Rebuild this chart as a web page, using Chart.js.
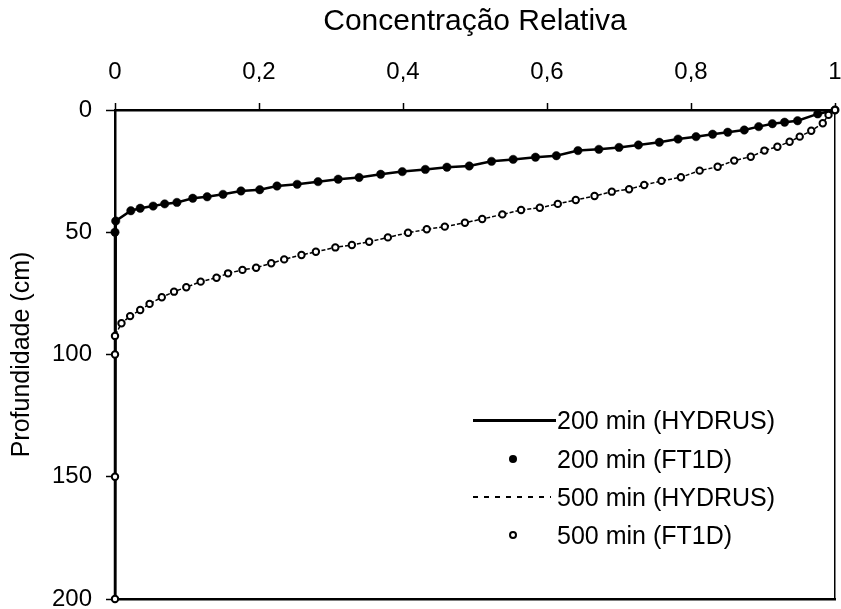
<!DOCTYPE html>
<html>
<head>
<meta charset="utf-8">
<script src="https://cdn.jsdelivr.net/npm/chart.js@4.4.0/dist/chart.umd.min.js"></script>
<style>
html,body{margin:0;padding:0;background:#fff;}
#wrap{position:relative;width:841px;height:609px;overflow:hidden;}
#c{position:absolute;left:0;top:0;}
.row{position:absolute;left:470px;height:30px;width:360px;font-family:"Liberation Sans",Arial,Helvetica,sans-serif;font-size:25px;line-height:30px;color:#000;white-space:nowrap;}
.row .txt{position:absolute;left:87px;top:0;}
.row .mk{position:absolute;}
.mk.solid{left:3px;top:14px;width:83px;height:2.5px;background:#000;}
.mk.dash{left:3px;top:14px;width:78px;height:2px;background:repeating-linear-gradient(to right,#000 0 5px,transparent 5px 11px);}
.mk.dot{left:39px;top:11px;width:8px;height:8px;border-radius:50%;background:#000;}
.mk.ring{left:39px;top:11px;width:4px;height:4px;border-radius:50%;border:2px solid #000;background:#fff;}
</style>
</head>
<body>
<div id="wrap">
  <canvas id="c" width="841" height="609"></canvas>
  <div id="legend"></div>
</div>
<script>
// ---- data ----
const xTickValues = [0, 0.2, 0.4, 0.6, 0.8, 1];
const xTickLabels = ['0', '0,2', '0,4', '0,6', '0,8', '1'];
const yTickValues = [0, 50, 100, 150, 200];
const yTickLabels = ['0', '50', '100', '150', '200'];
const xTitle = 'Concentração Relativa';
const yTitle = 'Profundidade (cm)';
const seriesNames = ['200 min (HYDRUS)', '200 min (FT1D)', '500 min (HYDRUS)', '500 min (FT1D)'];

// 200 min (FT1D): relative concentration and depth (cm)
const conc200 = [1.000, 0.976, 0.948, 0.930, 0.913, 0.894, 0.874, 0.851, 0.830, 0.807, 0.782, 0.756, 0.727, 0.700, 0.672, 0.643,
  0.613, 0.584, 0.553, 0.523, 0.492, 0.461, 0.431, 0.399, 0.369, 0.339, 0.310, 0.282, 0.253, 0.225, 0.201, 0.175,
  0.150, 0.128, 0.108, 0.086, 0.069, 0.053, 0.035, 0.022, 0.001, 0.000];
const depth200 = [0.0, 1.6, 4.4, 5.0, 5.6, 6.8, 8.2, 9.1, 9.9, 10.9, 11.9, 13.2, 14.3, 15.3, 16.1, 16.6,
  18.7, 19.3, 20.2, 21.0, 22.9, 23.4, 24.3, 25.2, 26.3, 27.6, 28.3, 29.3, 30.4, 31.1, 32.6, 33.1,
  34.5, 35.5, 36.1, 37.8, 38.4, 39.3, 40.2, 41.2, 45.4, 50.0];

// 500 min (FT1D)
const conc500 = [1.000, 0.991, 0.983, 0.967, 0.951, 0.937, 0.920, 0.902, 0.883, 0.860, 0.837, 0.812, 0.786, 0.759, 0.735, 0.714,
  0.690, 0.666, 0.640, 0.615, 0.590, 0.564, 0.538, 0.510, 0.486, 0.458, 0.433, 0.407, 0.379, 0.353, 0.329, 0.306,
  0.279, 0.259, 0.235, 0.217, 0.196, 0.177, 0.157, 0.141, 0.119, 0.099, 0.082, 0.065, 0.048, 0.035, 0.021, 0.009,
  0.000, 0.000, 0.000, 0.000];
const depth500 = [0.0, 2.0, 5.4, 8.5, 10.9, 13.0, 15.0, 16.6, 19.1, 20.7, 23.2, 24.8, 27.5, 29.0, 30.7, 32.4,
  33.4, 35.2, 36.8, 38.4, 40.0, 40.9, 42.7, 44.6, 46.1, 47.7, 48.8, 50.2, 52.1, 53.9, 55.2, 56.2,
  58.0, 59.3, 61.1, 62.7, 64.5, 65.4, 66.8, 68.6, 70.2, 72.5, 74.3, 76.6, 79.3, 81.8, 84.3, 87.2,
  92.4, 100, 150, 200];

// HYDRUS curves follow the same profiles down to the bottom of the column
const hydrus200Conc = [...conc200, 0];
const hydrus200Depth = [...depth200, 200];
const hydrus500Conc = conc500;
const hydrus500Depth = depth500;

const pts = (xs, ys) => xs.map((x, i) => ({x: x, y: ys[i]}));
const labelFor = (vals, labels, v) => {
  const k = vals.findIndex(t => Math.abs(t - v) < 1e-6);
  return k >= 0 ? labels[k] : '';
};
const noEdgePad = s => { s.paddingTop = 0; s.paddingBottom = 0; s.paddingLeft = 0; s.paddingRight = 0; };

const FONT = '"Liberation Sans", Arial, Helvetica, sans-serif';

const chart = new Chart(document.getElementById('c'), {
  type: 'scatter',
  data: {
    datasets: [
      {label: seriesNames[0], data: pts(hydrus200Conc, hydrus200Depth), showLine: true, borderColor: '#000', borderWidth: 2.5,
        pointRadius: 0, tension: 0, clip: false, order: 3},
      {label: seriesNames[1], data: pts(conc200, depth200), showLine: false, pointRadius: 4.2, pointBackgroundColor: '#000',
        pointBorderColor: '#000', pointBorderWidth: 0.5, clip: false, order: 2},
      {label: seriesNames[2], data: pts(hydrus500Conc, hydrus500Depth), showLine: true, borderColor: '#000', borderWidth: 1.5,
        borderDash: [4, 2], pointRadius: 0, tension: 0, clip: false, order: 1},
      {label: seriesNames[3], data: pts(conc500, depth500), showLine: false, pointRadius: 3.2, pointBackgroundColor: '#fff',
        pointBorderColor: '#000', pointBorderWidth: 2, clip: false, order: 0}
    ]
  },
  options: {
    responsive: false,
    animation: false,
    devicePixelRatio: 1,
    layout: {padding: {top: 0, left: 0, right: 5, bottom: 10}},
    plugins: {legend: {display: false}, tooltip: {enabled: false}},
    scales: {
      x: {
        type: 'linear', position: 'top', min: 0, max: 1,
        afterFit: s => { s.height = 110; noEdgePad(s); },
        ticks: {stepSize: 0.2, color: '#000', font: {family: FONT, size: 24}, padding: 16,
          callback: v => labelFor(xTickValues, xTickLabels, v)},
        grid: {drawOnChartArea: false, drawTicks: true, tickLength: 7, tickColor: '#000', tickWidth: 1.5},
        border: {display: true, color: '#000', width: 2.5},
        title: {display: true, text: xTitle, color: '#000', font: {family: FONT, size: 30}, padding: {top: 4, bottom: 0}}
      },
      y: {
        type: 'linear', position: 'left', reverse: true, min: 0, max: 200,
        afterFit: s => { s.width = 115; noEdgePad(s); },
        ticks: {stepSize: 50, color: '#000', font: {family: FONT, size: 24}, padding: 14,
          callback: v => labelFor(yTickValues, yTickLabels, v)},
        grid: {drawOnChartArea: false, drawTicks: true, tickLength: 9, tickColor: '#000', tickWidth: 1.5},
        border: {display: true, color: '#000', width: 2.5},
        title: {display: true, text: yTitle, color: '#000', font: {family: FONT, size: 25}, padding: {top: 7, bottom: 0}}
      },
      x2: {
        type: 'linear', position: 'bottom', min: 0, max: 1,
        afterFit: s => { s.height = 0; noEdgePad(s); },
        ticks: {display: false}, grid: {display: false, drawTicks: false},
        border: {display: true, color: '#000', width: 2.5}
      },
      y2: {
        type: 'linear', position: 'right', min: 0, max: 200, reverse: true,
        afterFit: s => { s.width = 0; noEdgePad(s); },
        ticks: {display: false}, grid: {display: false, drawTicks: false},
        border: {display: true, color: '#000', width: 1.5, dash: [2, 1.5]}
      }
    }
  }
});

// legend (real text) placed inside the plot, lower right
const legendRows = [
  {cls: 'solid', top: 405},
  {cls: 'dot', top: 444},
  {cls: 'dash', top: 482},
  {cls: 'ring', top: 520}
];
const lg = document.getElementById('legend');
seriesNames.forEach((name, i) => {
  const r = document.createElement('div');
  r.className = 'row';
  r.style.top = legendRows[i].top + 'px';
  const m = document.createElement('div');
  m.className = 'mk ' + legendRows[i].cls;
  const t = document.createElement('span');
  t.className = 'txt';
  t.textContent = name;
  r.appendChild(m); r.appendChild(t);
  lg.appendChild(r);
});
</script>
</body>
</html>
